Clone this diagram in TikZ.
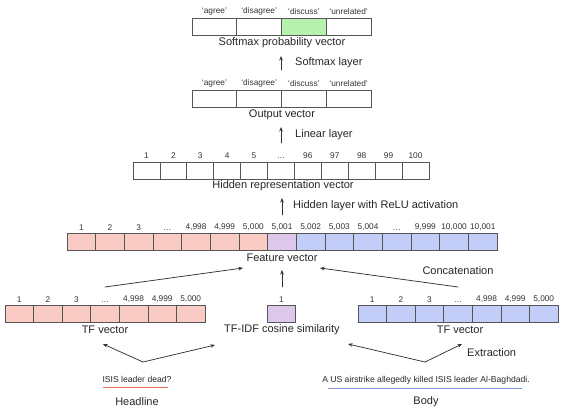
\documentclass[tikz,border=0pt]{standalone}
\usepackage{fontspec}
\setmainfont{Liberation Sans}
\usetikzlibrary{arrows.meta}
\definecolor{hlred}{HTML}{F9CBC4}
\definecolor{hlblue}{HTML}{C2CDF8}
\definecolor{hlpurple}{HTML}{DDC7EA}
\definecolor{hlgreen}{HTML}{B8F0B0}
\definecolor{cellline}{HTML}{555555}
\definecolor{inkgray}{HTML}{333333}
\definecolor{headline}{RGB}{236,110,95}
\definecolor{bodyline}{RGB}{127,144,224}
\tikzset{
  cell/.style={draw=cellline, line width=0.7pt, minimum width=#1, minimum height=17pt,
    inner sep=0pt, outer sep=0pt},
  idx/.style={font=\fontsize{8.3}{10}\selectfont, text=inkgray, inner sep=0pt},
  lbl/.style={font=\fontsize{11}{13}\selectfont, text=black!85, inner sep=0pt},
  txt/.style={font=\fontsize{8.6}{10}\selectfont, text=black!85, inner sep=0pt},
  flow/.style={->, draw=inkgray, line width=0.75pt},
}
\begin{document}
\begin{tikzpicture}[x=1pt, y=-1pt, >={Stealth[length=4.5pt,width=3.6pt]}, line cap=round]
    \useasboundingbox (0,0) rectangle (570,413);

    % ---- softmax probability vector ----
    \foreach \lab/\col [count=\i from 0] in {agree/white, disagree/white, discuss/hlgreen, unrelated/white}
        \node[cell=44.75pt, fill=\col, label={[idx, label distance=3pt]above:`\lab'}] (sm\i) at (214.4+44.75*\i, 26.5) {};
    \node[lbl] (smname) at (282,43) {Softmax probability vector};

    % ---- output vector ----
    \foreach \lab [count=\i from 0] in {agree, disagree, discuss, unrelated}
        \node[cell=44.75pt, fill=white, label={[idx, label distance=3pt]above:`\lab'}] (out\i) at (214.4+44.75*\i, 98.5) {};
    \node[lbl] (outname) at (282,115) {Output vector};

    % ---- hidden representation ----
    \foreach \n [count=\i from 0] in {1,2,3,4,5,\dots,96,97,98,99,100}
        \node[cell=26.9pt, fill=white, label={[idx, label distance=3pt]above:\n}] (hid\i) at (146.45+26.9*\i, 170.5) {};
    \node[lbl] (hidname) at (283,186) {Hidden representation vector};

    % ---- feature vector ----
    \foreach \n/\col [count=\i from 0] in {1/hlred, 2/hlred, 3/hlred, \dots/hlred, {4,998}/hlred, {4,999}/hlred,
            {5,000}/hlred, {5,001}/hlpurple, {5,002}/hlblue, {5,003}/hlblue, {5,004}/hlblue, \dots/hlblue,
            {9,999}/hlblue, {10,000}/hlblue, {10,001}/hlblue}
        \node[cell=28.67pt, fill=\col, label={[idx, label distance=3pt]above:\n}] (feat\i) at (81.33+28.67*\i, 242) {};
    \node[lbl] (featname) at (282,258) {Feature vector};

    % ---- headline, similarity, body ----
    \foreach \n [count=\i from 0] in {1,2,3,\dots,{4,998},{4,999},{5,000}}
        \node[cell=28.57pt, fill=hlred, label={[idx, label distance=3pt]above:\n}] (tfh\i) at (19.29+28.57*\i, 314) {};
    \node[lbl] (tfhname) at (105,330) {TF vector};
    \node[cell=28.57pt, fill=hlpurple, label={[idx, label distance=3pt]above:1}] (sim) at (281.5,314) {};
    \node[lbl] (simname) at (282,330) {TF-IDF cosine similarity};
    \foreach \n [count=\i from 0] in {1,2,3,\dots,{4,998},{4,999},{5,000}}
        \node[cell=28.57pt, fill=hlblue, label={[idx, label distance=3pt]above:\n}] (tfb\i) at (372.29+28.57*\i, 314) {};
    \node[lbl] (tfbname) at (460,330) {TF vector};

    % ---- raw text ----
    \node[txt] (headtxt) at (137,379) {ISIS leader dead?};
    \fill[headline] (103,386.8) rectangle (168,388.2);
    \node[lbl] (headname) at (137,402) {Headline};
    \node[txt] (bodytxt) at (426,380) {A US airstrike allegedly killed ISIS leader Al-Baghdadi.};
    \fill[bodyline] (328,387.8) rectangle (522,389.2);
    \node[lbl] (bodyname) at (426,402) {Body};

    % ---- arrow ends ----
    \coordinate (hs) at (143,362);
    \coordinate (bs) at (425,362);
    \coordinate (htf) at (103,344);
    \coordinate (hsim) at (215,345);
    \coordinate (bsim) at (348,344);
    \coordinate (btf) at (462,344);
    \coordinate (ctl) at (105,287);
    \coordinate (ctm) at (282,287);
    \coordinate (ctr) at (458,287);
    \coordinate (cel) at (243,268);
    \coordinate (cem) at (282,270);
    \coordinate (cer) at (320,268);
    \coordinate (r1) at (282,215);
    \coordinate (r2) at (282,198);
    \coordinate (l1) at (281,143);
    \coordinate (l2) at (281,127);
    \coordinate (s1) at (281,70);
    \coordinate (s2) at (281,56);

    % ---- extraction ----
    \draw[flow] (hs) -- (htf);
    \draw[flow] (hs) -- (hsim);
    \draw[flow] (bs) -- (bsim);
    \draw[flow] (bs) -- (btf);
    \node[lbl, anchor=west] (extr) at (467,353) {Extraction};

    % ---- concatenation ----
    \draw[flow] (ctl) -- (cel);
    \draw[flow] (ctm) -- (cem);
    \draw[flow] (ctr) -- (cer);
    \node[lbl] (concat) at (458,271) {Concatenation};

    % ---- layers ----
    \draw[flow] (r1) -- (r2);
    \node[lbl, anchor=west] (relu) at (293,206) {Hidden layer with ReLU activation};
    \draw[flow] (l1) -- (l2);
    \node[lbl, anchor=west] (lin) at (295,135) {Linear layer};
    \draw[flow] (s1) -- (s2);
    \node[lbl, anchor=west] (soft) at (295,63) {Softmax layer};
\end{tikzpicture}
\end{document}
